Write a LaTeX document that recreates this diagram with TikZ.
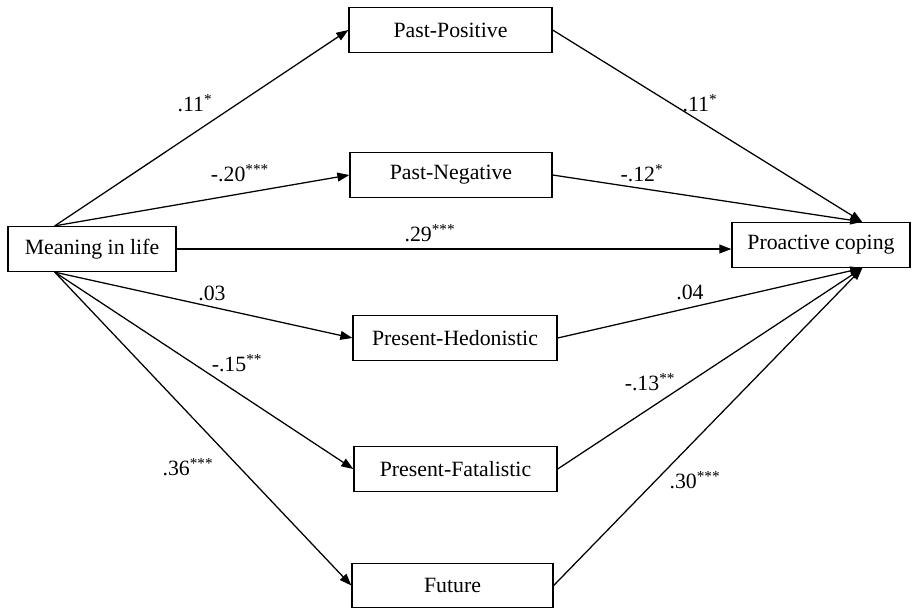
\documentclass[tikz,border=0pt]{standalone}
\usepackage{fontspec}
\setmainfont{Liberation Serif}
\usetikzlibrary{calc,arrows.meta}

\begin{document}
\begin{tikzpicture}[x=0.025cm,y=-0.025cm,line width=0.9pt,
  font={\fontsize{15.5}{18}\selectfont},
  var/.style={draw,rectangle,inner sep=0pt,minimum height=1.125cm},
  eff/.style={-{Triangle[length=3mm,width=2.2mm]}}]
\useasboundingbox (0,0) rectangle (912,608);

% outer variables
\node[var,minimum width=4.2cm] (mil) at (92,249) {Meaning in life};
\node[var,minimum width=4.45cm] (pro) at (821,245) {Proactive coping};

% time perspectives
\node[var,minimum width=5.075cm] (pp) at (450.5,30) {Past-Positive};
\node[var,minimum width=5.05cm] (pn) at (451,175) {Past-Negative};
\node[var,minimum width=5.1cm] (ph) at (455,338) {Present-Hedonistic};
\node[var,minimum width=5.075cm] (pf) at (455.5,469) {Present-Fatalistic};
\node[var,minimum width=5.025cm,minimum height=1.1cm] (fu) at (452.5,585.5) {Future};

% where the arrows leave and meet the outer boxes
\coordinate (miltop) at ($(mil.north west)!0.28!(mil.north east)$);
\coordinate (milbot) at ($(mil.south west)!0.28!(mil.south east)$);
\coordinate (protop) at ($(pro.north west)!0.73!(pro.north east)$);
\coordinate (probot) at ($(pro.south west)!0.73!(pro.south east)$);

% a paths
\foreach \from/\to in {miltop/pp,miltop/pn,milbot/ph,milbot/pf,milbot/fu}
  \draw[eff] (\from) -- (\to.west);
% b paths
\foreach \from/\to in {pp/protop,pn/protop,ph/probot,pf/probot,fu/probot}
  \draw[eff] (\from.east) -- (\to);
% direct path
\draw[eff] (mil.east) -- (mil.east -| pro.west);

% coefficients
\node (app) at (195,103) {.11\textsuperscript{*}};
\node (apn) at (240,173) {-.20\textsuperscript{***}};
\node (cdir) at (430,233) {.29\textsuperscript{***}};
\node (aph) at (212,293) {.03};
\node (apf) at (237,363) {-.15\textsuperscript{**}};
\node (afu) at (188,467) {.36\textsuperscript{***}};
\node (bpp) at (700,103) {.11\textsuperscript{*}};
\node (bpn) at (642,173) {-.12\textsuperscript{*}};
\node (bph) at (690,292) {.04};
\node (bpf) at (650,382) {-.13\textsuperscript{**}};
\node (bfu) at (695,480) {.30\textsuperscript{***}};

\end{tikzpicture}
\end{document}
